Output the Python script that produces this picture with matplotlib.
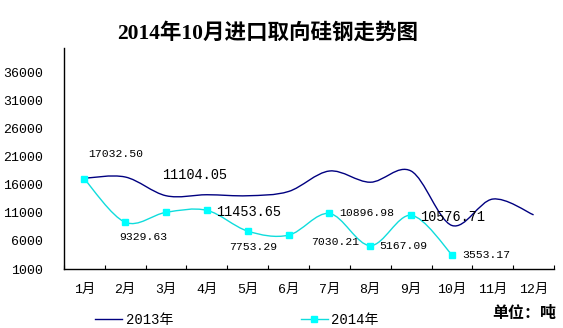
import matplotlib.pyplot as plt
import numpy as np
from matplotlib.path import Path
from matplotlib.patches import PathPatch
from matplotlib.lines import Line2D

months = ['1月', '2月', '3月', '4月', '5月', '6月', '7月', '8月', '9月', '10月', '11月', '12月']
imports_2013 = [17180, 17400, 14060, 14240, 14060, 14820, 18470, 16470, 18470, 8760, 13470, 10650]
imports_2014 = [17032.50, 9329.63, 11104.05, 11453.65, 7753.29, 7030.21, 10896.98, 5167.09, 10576.71, 3553.17]
yticks = [1000, 6000, 11000, 16000, 21000, 26000, 31000, 36000]

# label offsets (pixels), alignment and size for each 2014 point
label_style = [
    ((4, 25), 'left', 8.2),
    ((18, -15), 'center', 8.2),
    ((-4, 37), 'left', 9.8),
    ((9, -2), 'left', 9.8),
    ((5, -16), 'center', 8.2),
    ((47, -7), 'center', 8.2),
    ((10, 0), 'left', 8.2),
    ((9, 0), 'left', 8.2),
    ((9, -2), 'left', 9.8),
    ((10, 0), 'left', 8.2),
]

mono = ['Liberation Mono', 'Noto Sans CJK SC']


def smooth_path(xs, ys):
    # Catmull-Rom style bezier through the points
    n = len(xs)
    verts = [(xs[0], ys[0])]
    codes = [Path.MOVETO]
    for i in range(n - 1):
        a = i - 1 if i > 0 else i
        d = i + 2 if i + 2 < n else i + 1
        c1 = (xs[i] + (xs[i + 1] - xs[a]) / 6, ys[i] + (ys[i + 1] - ys[a]) / 6)
        c2 = (xs[i + 1] - (xs[d] - xs[i]) / 6, ys[i + 1] - (ys[d] - ys[i]) / 6)
        verts += [c1, c2, (xs[i + 1], ys[i + 1])]
        codes += [Path.CURVE4] * 3
    return Path(verts, codes)


fig = plt.figure(figsize=(5.63, 3.28), dpi=100)
ax = fig.add_axes([64 / 563, 1 - 269 / 328, 490 / 563, 221 / 328])

c13 = '#000080'
c14 = '#10DCDC'

x13 = np.arange(len(imports_2013))
x14 = np.arange(len(imports_2014))
ax.add_patch(PathPatch(smooth_path(x13, imports_2013), fill=False, edgecolor=c13, lw=1.0))
ax.add_patch(PathPatch(smooth_path(x14, imports_2014), fill=False, edgecolor=c14, lw=1.0))
ax.plot(x14, imports_2014, linestyle='none', marker='s', markersize=4.5,
        color='#00FFFF', markeredgecolor='#00FFFF')

for i, v in enumerate(imports_2014):
    (dx, dy), ha, fs = label_style[i]
    ax.annotate(f'{v:.2f}', xy=(i, v), xytext=(dx, dy), textcoords='offset pixels',
                ha=ha, va='center', fontsize=fs, family=mono, color='black')

ax.set_xlim(-0.5, 11.5)
ax.set_ylim(1000, 40400)
ax.set_xticks(x13)
ax.set_xticklabels(months, family=mono, fontsize=9.5)
ax.set_xticks(np.arange(-0.5, 12, 1), minor=True)
ax.tick_params(axis='x', which='major', length=0, pad=11)
ax.tick_params(axis='x', which='minor', direction='in', length=3, width=0.8)
ax.set_yticks(yticks)
ax.set_yticklabels([str(t) for t in yticks], family=mono, fontsize=9.5)
ax.tick_params(axis='y', length=0, pad=15)

for s in ['top', 'right']:
    ax.spines[s].set_visible(False)
for s in ['left', 'bottom']:
    ax.spines[s].set_linewidth(1.0)
    ax.spines[s].set_color('black')

fig.text(268 / 563, 1 - 33 / 328, '2014年10月进口取向硅钢走势图', ha='center', va='center',
         fontsize=15.5, fontweight='bold', family=['Liberation Serif', 'Noto Sans CJK SC'])
fig.text(556 / 563, 1 - 313 / 328, '单位：吨', ha='right', va='center',
         fontsize=11.5, fontweight='bold', family='Noto Sans CJK SC')

handles = [
    Line2D([], [], color=c13, lw=1.0),
    Line2D([], [], color=c14, lw=1.0, marker='s', markersize=4.5,
           markerfacecolor='#00FFFF', markeredgecolor='#00FFFF'),
]
fig.legend(handles, ['2013年', '2014年'], loc='center left',
           bbox_to_anchor=(95 / 563, 1 - 320 / 328), ncol=2, frameon=False,
           borderpad=0, borderaxespad=0, handlelength=1.95, handletextpad=0.25,
           columnspacing=9.2, prop={'family': mono, 'size': 10})

fig.savefig('out.png', dpi=100)
